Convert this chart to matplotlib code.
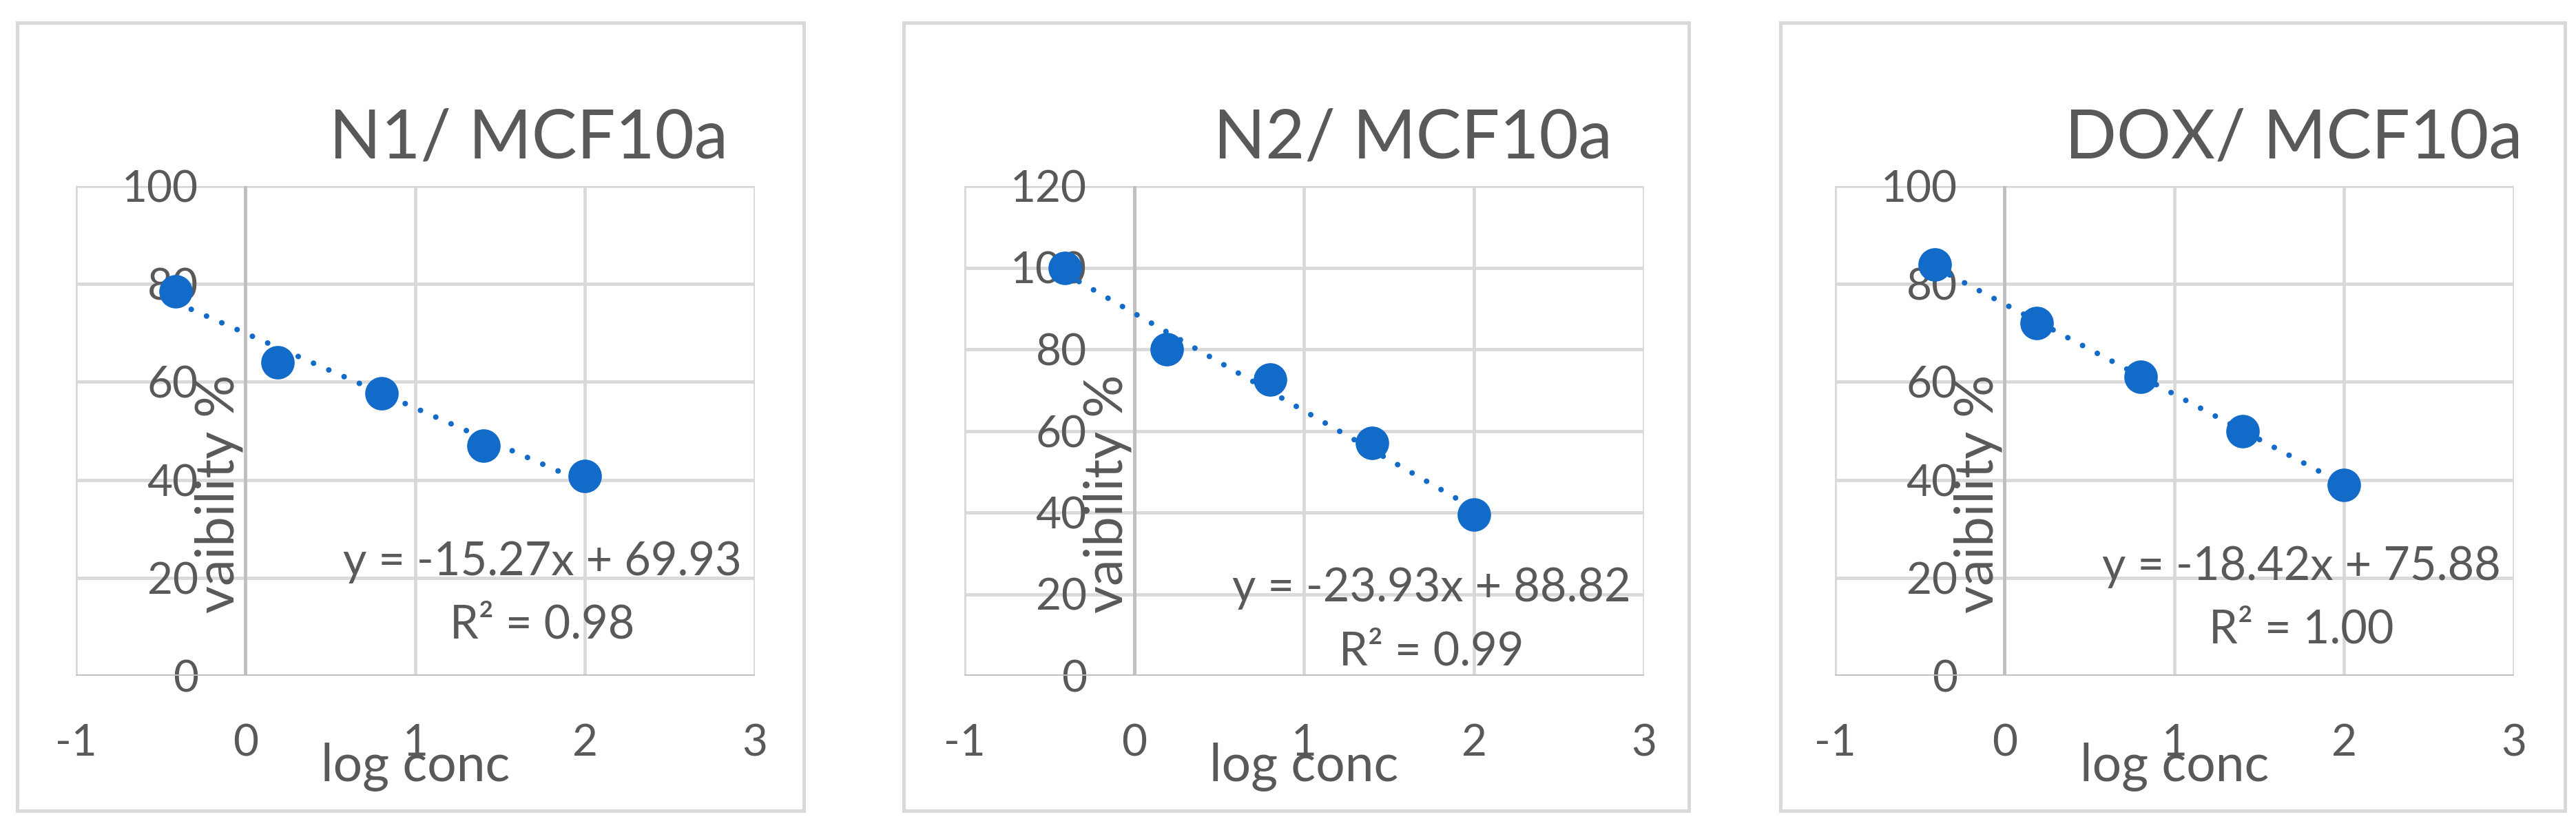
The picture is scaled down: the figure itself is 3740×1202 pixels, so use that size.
import matplotlib
matplotlib.use("Agg")
import matplotlib.pyplot as plt
from matplotlib.patches import Rectangle
import numpy as np

plt.rcParams['font.family'] = ['Lato', 'DejaVu Sans']
plt.rcParams['axes.unicode_minus'] = False

# data
log_conc = [-0.41, 0.19, 0.80, 1.40, 2.00]
n1 = [78.5, 64.0, 57.6, 47.0, 40.8]
n2 = [100.0, 80.0, 72.5, 57.0, 39.5]
dox = [84.0, 72.0, 61.0, 50.0, 39.0]
titles = ["N1/ MCF10a", "N2/ MCF10a", "DOX/ MCF10a"]
slopes = [-15.27, -23.93, -18.42]
intercepts = [69.93, 88.82, 75.88]
r_squared = [0.98, 0.99, 1.00]
y_max = [100, 120, 100]
x_ticks = [-1, 0, 1, 2, 3]

W, H = 3741, 1202
fig = plt.figure(figsize=(W / 100, H / 100), dpi=100)

grey_txt = '#595959'
grid_c = '#d9d9d9'
axis_c = '#bfbfbf'
blue = '#126bc9'

# layout in pixels (left, right of plot area, border box) per panel
plot_lr = [(110, 1096), (1400, 2387), (2664, 3650)]
plot_top, plot_bot = 270, 981
borders = [(25, 1167), (1312, 2452), (2585, 3724)]
title_x = [0.667, 0.660, 0.676]
eq_y = [(0.232, 0.104), (0.179, 0.048), (0.222, 0.094)]

series = [n1, n2, dox]

for i in range(3):
    # panel border
    bx0, bx1 = borders[i]
    fig.patches.append(Rectangle((bx0 / W, 1 - 1177 / H), (bx1 - bx0) / W, (1177 - 33) / H,
                                 transform=fig.transFigure, fill=False,
                                 edgecolor=grid_c, lw=3.6))

    l, r = plot_lr[i]
    ax = fig.add_axes([l / W, 1 - plot_bot / H, (r - l) / W, (plot_bot - plot_top) / H])
    ax.set_xlim(-1, 3)
    ax.set_ylim(0, y_max[i])
    ax.set_xticks(x_ticks)
    ax.set_yticks(np.arange(0, y_max[i] + 1, 20))
    for s in ax.spines.values():
        s.set_visible(False)
    ax.grid(True, color=grid_c, lw=3.4)
    ax.set_axisbelow(True)
    ax.axvline(0, color=axis_c, lw=3.4, zorder=1)
    ax.axhline(0, color=axis_c, lw=3.4, zorder=1)
    ax.tick_params(length=0, labelsize=46, labelcolor=grey_txt)
    ax.tick_params(axis='y', pad=-128)
    ax.tick_params(axis='x', pad=50)

    # trend line
    xs = np.array([log_conc[0], log_conc[-1]])
    ax.plot(xs, slopes[i] * xs + intercepts[i], color=blue, lw=5.8,
            linestyle=(0, (0.01, 3)), dash_capstyle='round', zorder=2)
    ax.plot(log_conc, series[i], 'o', color=blue, ms=34, zorder=3)

    ax.set_xlabel("log conc", fontsize=54, color=grey_txt, va='center')
    ax.xaxis.set_label_coords(0.5, -0.186)
    ax.set_ylabel("vaibility %", fontsize=56, color=grey_txt, va='center', ha='center')
    ax.yaxis.set_label_coords(0.211, 0.371)

    ax.set_title(titles[i], x=title_x[i], y=1.045, fontsize=71, color=grey_txt)

    ax.text(0.687, eq_y[i][0], f"y = {slopes[i]:.2f}x + {intercepts[i]:.2f}",
            transform=ax.transAxes, ha='center', va='center', fontsize=48, color=grey_txt)
    ax.text(0.687, eq_y[i][1], f"R² = {r_squared[i]:.2f}",
            transform=ax.transAxes, ha='center', va='center', fontsize=48, color=grey_txt)

fig.savefig("out.png", dpi=100, facecolor='white')
